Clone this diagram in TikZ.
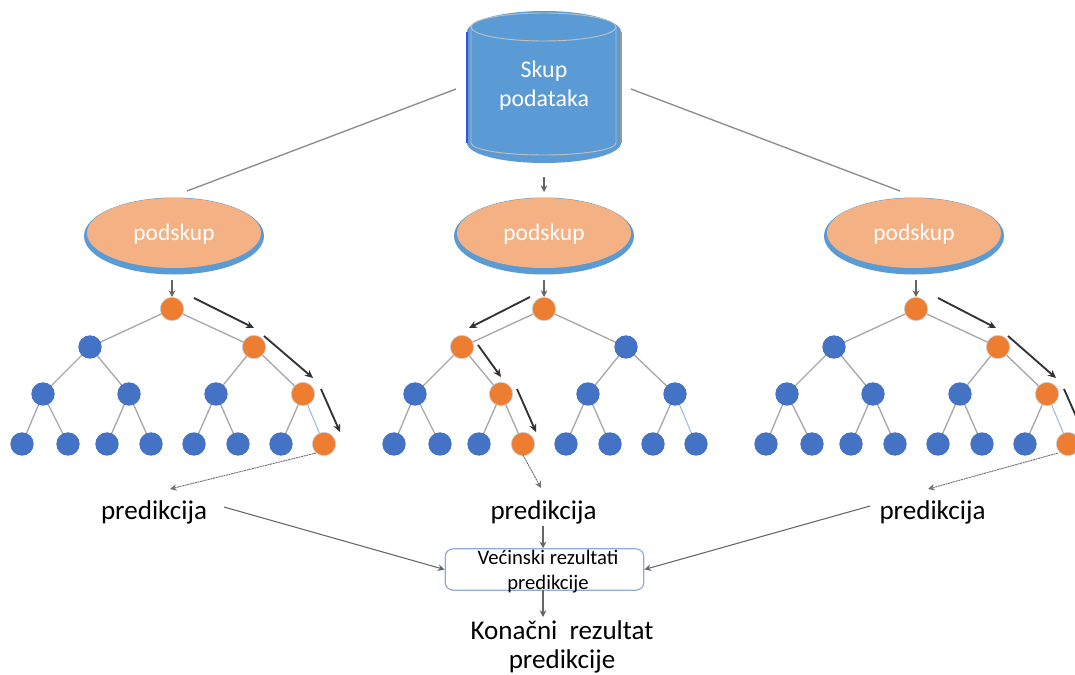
\documentclass[tikz,border=0pt]{standalone}
\usepackage{fontspec}
\setmainfont{Carlito}
\usetikzlibrary{arrows.meta}
\definecolor{cylblue}{HTML}{5B9BD5}
\definecolor{nodeblue}{HTML}{4472C4}
\definecolor{nodeorange}{HTML}{ED7D31}
\definecolor{subfill}{HTML}{F4B183}
\definecolor{edgegray}{HTML}{A8A8A8}
\definecolor{lineblue}{HTML}{9DBBE3}
\definecolor{boxline}{HTML}{8FAADC}
\tikzset{
  x=0.75pt,y=-0.75pt,
  treeedge/.style={draw=edgegray,line width=1pt},
  lastedge/.style={draw=lineblue,line width=0.8pt},
  blue dot/.style={circle,fill=nodeblue,inner sep=0pt,minimum size=17.5pt},
  orange dot/.style={circle,fill=nodeorange,draw=black!20,line width=0.5pt,inner sep=0pt,minimum size=17.5pt},
  pathmark/.style={draw=black!80,line width=1.4pt,-{Stealth[length=6pt,width=5.5pt]}},
  thin arrow/.style={draw=black!60,line width=0.8pt,-{Stealth[length=5pt,width=5pt]}},
  dotted arrow/.style={draw=black!55,line width=0.7pt,dash pattern=on 1.5pt off 0.5pt,-{Stealth[length=5pt,width=5pt,sep=0pt]}},
  link/.style={draw=black!45,line width=1pt},
  pred/.style={font=\fontsize{20.3}{24}\selectfont,inner sep=0pt,text=black},
  wtext/.style={text=white,inner sep=0pt,align=center},
}
\newcommand{\dectree}[2]{%
  \foreach \nm/\px/\py in {r/172/309,
     a/90/347,b/254/347,
     c/43/394,d/129/394,e/216/394,f/303/394,
     g/22/444,h/68/444,i/107/444,j/151/444,k/194/444,l/238/444,m/281/444,n/324/444}{%
    \pgfmathsetmacro{\qx}{\px+#2}
    \coordinate (#1\nm) at (\qx,\py);
  }%
}
\newcommand{\dotnodes}[2]{%
  \foreach \nm/\st in {#2}{\node[\st] (#1\nm n) at (#1\nm) {};}%
}
\newcommand{\treeedges}[1]{%
  \foreach \u/\v in {r/a,r/b,a/c,a/d,b/e,b/f,c/g,c/h,d/i,d/j,e/k,e/l,f/m}{\draw[treeedge] (#1\u) -- (#1\v);}%
  \draw[lastedge] (#1f) -- (#1n);
}
\begin{document}
\begin{tikzpicture}
\useasboundingbox (0,0) rectangle (1075,675);
\fill[white] (0,0) rectangle (1075,675);

% ---- links from the data set
\coordinate (dsL) at (456,89);
\coordinate (dsR) at (631,89);
\coordinate (dsC) at (544,177);
\coordinate (s1t) at (187,191);
\coordinate (s3t) at (900,191);
\coordinate (s2t) at (544,192);
\draw[link] (dsL) -- (s1t);
\draw[link] (dsR) -- (s3t);
\draw[thin arrow] (dsC) -- (s2t);

% ---- cylinder
\fill[cylblue] (467,32) arc[start angle=180,end angle=360,x radius=77,y radius=21]
  -- (621,143) arc[start angle=0,end angle=180,x radius=77,y radius=20] -- cycle;
\draw[black!40,line width=0.9pt] (621,32) -- (621,143);
\draw[blue!45!cylblue,line width=0.9pt] (467,32) -- (467,143);
\draw[white!75!black,line width=0.7pt] (471,27) -- (471,143) arc[start angle=180,end angle=0,x radius=72.5,y radius=12] -- (616,27);
\draw[white!75!black,line width=0.7pt] (543.5,27) ellipse[x radius=72.5,y radius=14];
\node[wtext,font=\fontsize{17.9}{21.75}\selectfont] (ds) at (544,85.5) {Skup\\podataka};

% ---- subsets
\foreach \nm/\cx in {s1/174,s2/544,s3/914}{
  \fill[cylblue] (\cx,236) ellipse[x radius=90,y radius=38.5];
  \fill[subfill] (\cx,233) ellipse[x radius=87,y radius=35];
  \node[wtext,font=\fontsize{17.6}{20}\selectfont] (\nm) at (\cx,234) {podskup};
}

% ---- trees
\dectree{A}{0}
\dectree{B}{372}
\dectree{C}{744}
\treeedges{A}\treeedges{B}\treeedges{C}
\dotnodes{A}{r/orange dot,a/blue dot,b/orange dot,c/blue dot,d/blue dot,e/blue dot,f/orange dot,g/blue dot,h/blue dot,i/blue dot,j/blue dot,k/blue dot,l/blue dot,m/blue dot,n/orange dot}
\dotnodes{B}{r/orange dot,a/orange dot,b/blue dot,c/blue dot,d/orange dot,e/blue dot,f/blue dot,g/blue dot,h/blue dot,i/blue dot,j/orange dot,k/blue dot,l/blue dot,m/blue dot,n/blue dot}
\dotnodes{C}{r/orange dot,a/blue dot,b/orange dot,c/blue dot,d/blue dot,e/blue dot,f/orange dot,g/blue dot,h/blue dot,i/blue dot,j/blue dot,k/blue dot,l/blue dot,m/blue dot,n/orange dot}

% ---- subset -> root
\coordinate (s1b) at (172,280);
\coordinate (s2b) at (544,280);
\coordinate (s3b) at (916,280);
\draw[thin arrow] (s1b) -- (Arn);
\draw[thin arrow] (s2b) -- (Brn);
\draw[thin arrow] (s3b) -- (Crn);

% ---- path markers
\foreach \p/\xa/\ya/\xb/\yb in {
  m1/194/298/254/328, m2/264/336/313/378, m3/321/389/340/432,
  m4/530/297/469/328, m5/478/345/501/377, m6/517/389/536/432,
  m7/938/298/996/328, m8/1008/336/1056/378, m9/1064/389/1083/432}{
  \coordinate (\p s) at (\xa,\ya);
  \coordinate (\p e) at (\xb,\yb);
  \draw[pathmark] (\p s) -- (\p e);
}

% ---- predictions
\node[pred] (p1) at (154,512) {predikcija};
\node[pred] (p2) at (543.5,512) {predikcija};
\node[pred] (p3) at (932.5,512) {predikcija};
\coordinate (p1t) at (170,489);
\coordinate (p2t) at (541,488);
\coordinate (p3t) at (928,489);
\coordinate (l1) at (316,453);
\coordinate (l2) at (523,455);
\coordinate (l3) at (1058,453);
\draw[dotted arrow] (l1) -- (p1t);
\draw[dotted arrow] (l2) -- (p2t);
\draw[dotted arrow] (l3) -- (p3t);

% ---- majority box
\node[draw=boxline,line width=0.9pt,rounded corners=6pt,minimum width=149pt,minimum height=31pt,inner sep=0pt] (vote) at (544.5,569.5) {};
\node[inner sep=0pt,align=center,font=\fontsize{15.5}{18.75}\selectfont] (votetxt) at (548,571.5) {Većinski rezultati\\predikcije};
\coordinate (p1r) at (224,507);
\coordinate (p2b) at (543,526);
\coordinate (p3l) at (870,506);
\draw[thin arrow] (p1r) -- (vote.west);
\draw[thin arrow] (p2b) -- (vote.north -| p2b);
\draw[thin arrow] (p3l) -- (vote.east);

\node[pred,align=center,font=\fontsize{20.3}{21.75}\selectfont] (res) at (562,647) {Konačni\ \ rezultat\\predikcije};
\coordinate (vb) at (543,590);
\coordinate (rt) at (543,617);
\draw[thin arrow] (vb) -- (rt);
\end{tikzpicture}
\end{document}
